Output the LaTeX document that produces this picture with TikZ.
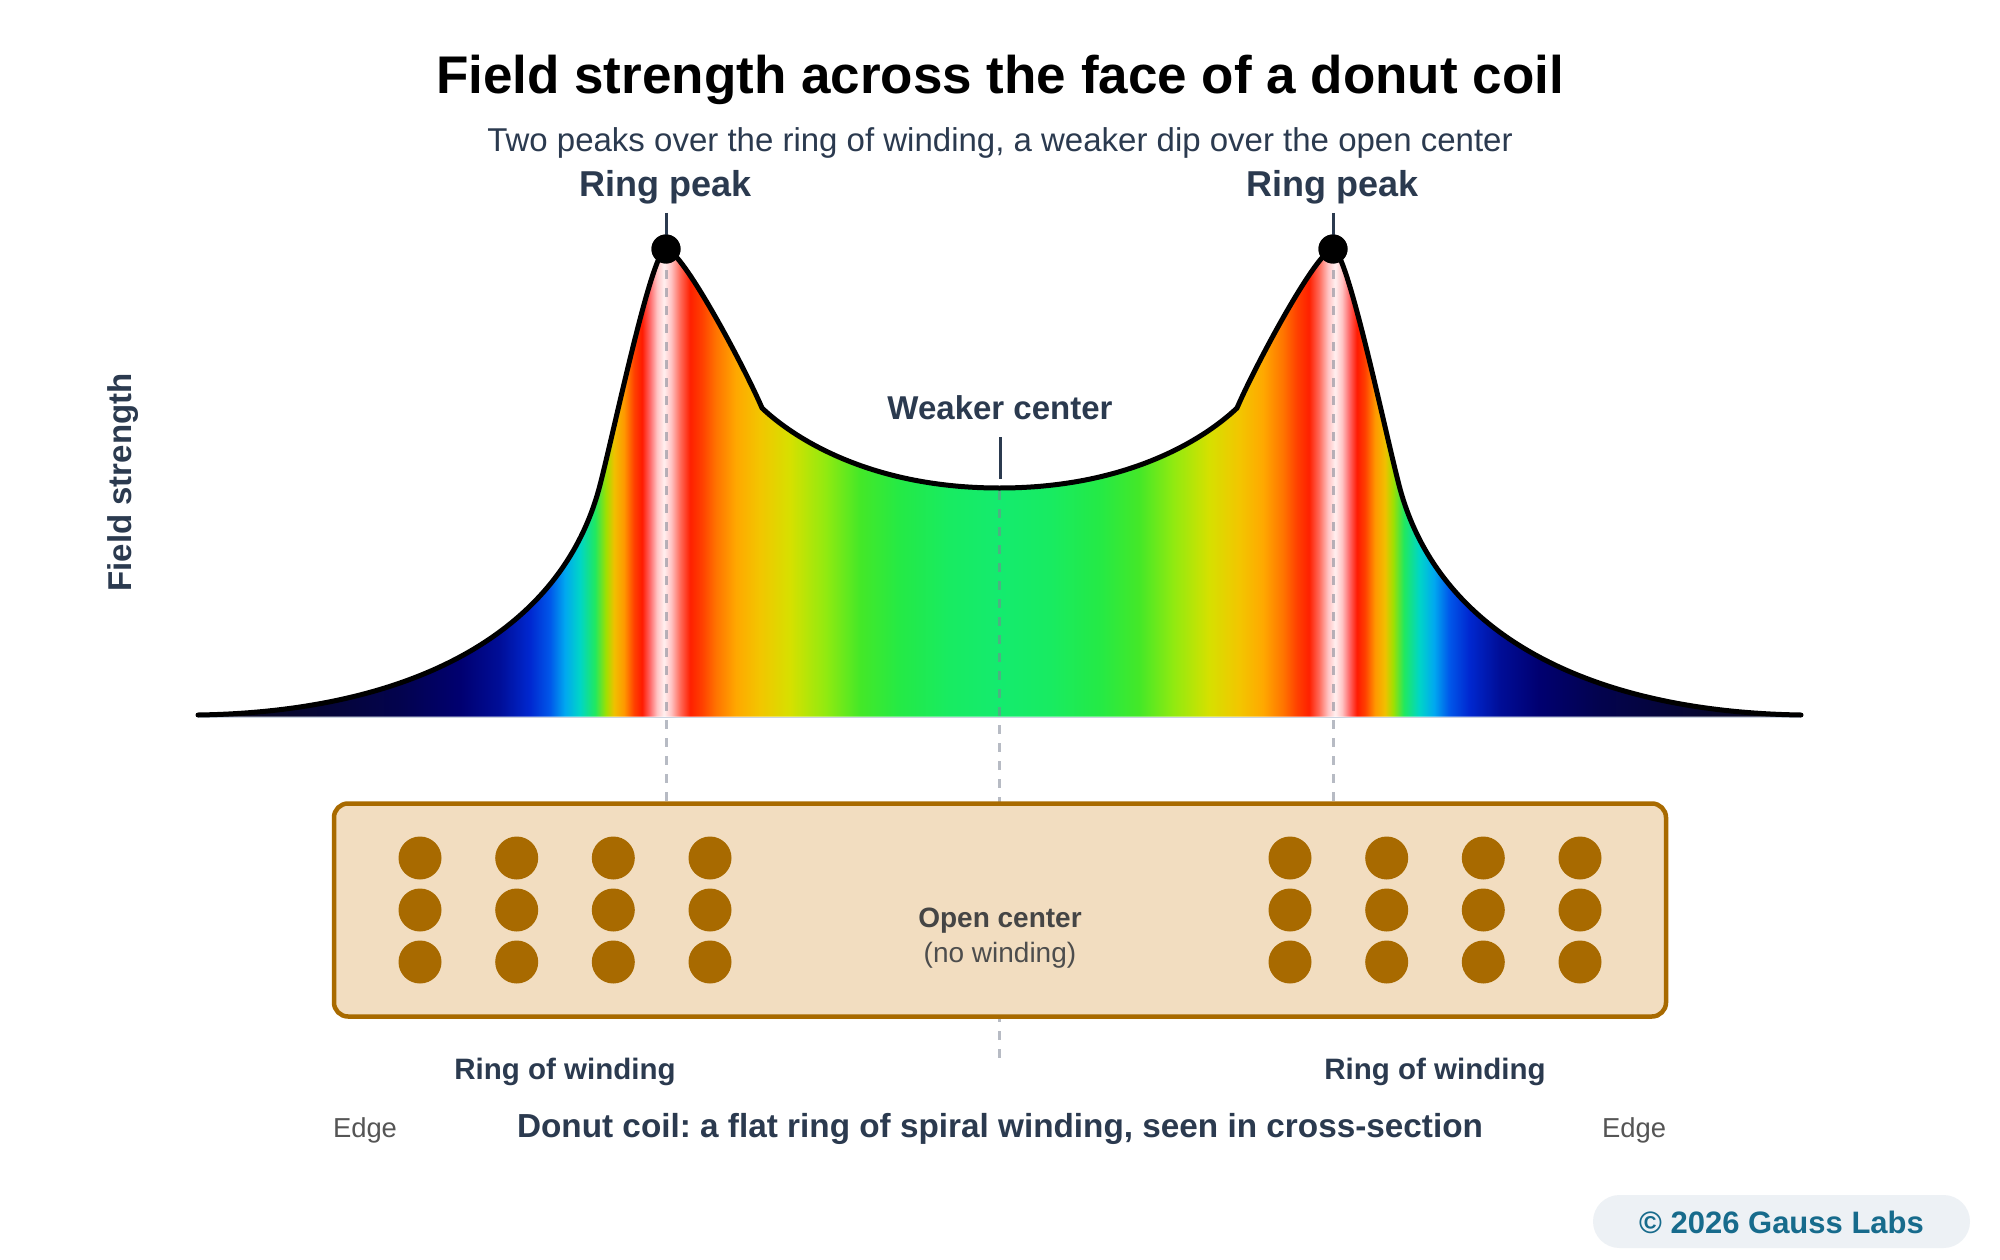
\documentclass[tikz,border=0pt]{standalone}
\usepackage{fontspec}
\setmainfont{Liberation Sans}
\frenchspacing
\definecolor{slate}{HTML}{2B3A4F}
\definecolor{coil}{HTML}{A86A00}
\definecolor{coilbg}{HTML}{F2DDC0}
\definecolor{guidec}{HTML}{7C8494}
\definecolor{pillbg}{HTML}{EDF1F5}
\definecolor{pilltxt}{HTML}{176B8C}
\definecolor{edgegray}{HTML}{555555}
\definecolor{opengray}{HTML}{454545}
\definecolor{openreg}{HTML}{4D4D4D}
\definecolor{basec}{HTML}{C9D3E0}
\definecolor{g0}{HTML}{0A0A1A}
\definecolor{g1}{HTML}{060630}
\definecolor{g2}{HTML}{03034E}
\definecolor{g3}{HTML}{000070}
\definecolor{g4}{HTML}{000E98}
\definecolor{g5}{HTML}{0028D0}
\definecolor{g6}{HTML}{0058EA}
\definecolor{g7}{HTML}{00A8F0}
\definecolor{g8}{HTML}{00D6C6}
\definecolor{g9}{HTML}{20E860}
\definecolor{g10}{HTML}{A0E000}
\definecolor{g11}{HTML}{F0C000}
\definecolor{g12}{HTML}{FF9800}
\definecolor{g13}{HTML}{FF4000}
\definecolor{g14}{HTML}{FF1A00}
\definecolor{g15}{HTML}{FF6A6A}
\definecolor{g16}{HTML}{FFC4C4}
\definecolor{g17}{HTML}{FFF0F0}
\definecolor{g18}{HTML}{FFC4C4}
\definecolor{g19}{HTML}{FF6A5A}
\definecolor{g20}{HTML}{FF2000}
\definecolor{g21}{HTML}{FF4000}
\definecolor{g22}{HTML}{FF7400}
\definecolor{g23}{HTML}{FFA800}
\definecolor{g24}{HTML}{F2C600}
\definecolor{g25}{HTML}{D6E000}
\definecolor{g26}{HTML}{92EA10}
\definecolor{g27}{HTML}{44E828}
\definecolor{g28}{HTML}{24EA46}
\definecolor{g29}{HTML}{18EB62}
\definecolor{g30}{HTML}{14EB6E}
\pgfdeclarehorizontalshading{fieldshade}{480pt}{%
color(0pt)=(g0); color(102pt)=(g1); color(202pt)=(g2); color(262pt)=(g3);
color(302pt)=(g4); color(332pt)=(g5); color(352pt)=(g6); color(367pt)=(g7);
color(382pt)=(g8); color(397pt)=(g9); color(408pt)=(g10); color(416pt)=(g11);
color(426pt)=(g12); color(436pt)=(g13); color(444pt)=(g14); color(452pt)=(g15);
color(459pt)=(g16); color(466pt)=(g17); color(473pt)=(g18); color(482pt)=(g19);
color(492pt)=(g20); color(504pt)=(g21); color(518pt)=(g22); color(538pt)=(g23);
color(562pt)=(g24); color(592pt)=(g25); color(627pt)=(g26); color(662pt)=(g27);
color(702pt)=(g28); color(752pt)=(g29); color(801.5pt)=(g30);
color(851pt)=(g29); color(901pt)=(g28); color(941pt)=(g27); color(976pt)=(g26);
color(1011pt)=(g25); color(1041pt)=(g24); color(1065pt)=(g23); color(1085pt)=(g22);
color(1099pt)=(g21); color(1111pt)=(g20); color(1121pt)=(g19); color(1130pt)=(g18);
color(1137pt)=(g17); color(1144pt)=(g16); color(1151pt)=(g15); color(1159pt)=(g14);
color(1167pt)=(g13); color(1177pt)=(g12); color(1187pt)=(g11); color(1195pt)=(g10);
color(1206pt)=(g9); color(1221pt)=(g8); color(1236pt)=(g7); color(1251pt)=(g6);
color(1271pt)=(g5); color(1301pt)=(g4); color(1341pt)=(g3); color(1401pt)=(g2);
color(1501pt)=(g1); color(1603pt)=(g0)}
\begin{document}
\begin{tikzpicture}[x=1pt,y=-1pt,
  txt/.style={inner sep=0pt, outer sep=0pt, anchor=base},
  titletxt/.style={txt, font=\fontsize{53}{64}\selectfont\bfseries, text=black},
  subtxt/.style={txt, font=\fontsize{33}{40}\selectfont, text=slate},
  peaklbl/.style={txt, font=\fontsize{36}{43}\selectfont\bfseries, text=slate},
  midlbl/.style={txt, font=\fontsize{33}{40}\selectfont\bfseries, text=slate},
  axislbl/.style={txt, font=\fontsize{33}{40}\selectfont\bfseries, text=slate, rotate=90},
  ringlbl/.style={txt, font=\fontsize{29.5}{36}\selectfont\bfseries, text=slate},
  captxt/.style={txt, font=\fontsize{33.3}{40}\selectfont\bfseries, text=slate},
  edgetxt/.style={txt, font=\fontsize{27.4}{33}\selectfont, text=edgegray},
  openbold/.style={txt, font=\fontsize{28}{34}\selectfont\bfseries, text=opengray},
  openregular/.style={txt, font=\fontsize{28}{34}\selectfont, text=openreg},
  copytxt/.style={txt, font=\fontsize{31}{38}\selectfont\bfseries, text=pilltxt},
  pillbox/.style={draw=none, fill=pillbg, rounded corners=26.5pt, minimum width=377pt, minimum height=53pt, inner sep=0pt},
  coilbox/.style={draw=coil, fill=coilbg, line width=4.5pt, rounded corners=14pt, minimum width=1332pt, minimum height=213pt, inner sep=0pt},
  wire/.style={circle, fill=coil, minimum size=43pt, inner sep=0pt},
  peakdot/.style={circle, fill=black, minimum size=29pt, inner sep=0pt},
  tickline/.style={draw=slate, line width=3pt},
  guide/.style={draw=guidec, draw opacity=0.55, line width=3pt, dash pattern=on 9pt off 9pt},
  curveline/.style={draw=black, line width=5pt, line cap=round, line join=round},
]
\useasboundingbox[fill=white] (0,0) rectangle (2000,1260);

% gradient fill under the curve
\begin{scope}
\clip (198,715) .. controls (400,712) and (560,640) .. (600,485)
  .. controls (615,427) and (652,249) .. (666,249)
  .. controls (682,250) and (744,366) .. (762,408)
  .. controls (785,430) and (860,488) .. (999.5,488)
  .. controls (1139,488) and (1214,430) .. (1237,408)
  .. controls (1255,366) and (1317,250) .. (1333,249)
  .. controls (1347,249) and (1384,427) .. (1399,485)
  .. controls (1439,640) and (1599,712) .. (1801,715)
  -- (1801,716.5) -- (198,716.5) -- cycle;
\node[inner sep=0pt, outer sep=0pt, anchor=south west] (shade) at (198,716.5) {\pgfuseshading{fieldshade}};
\end{scope}

% baseline
\coordinate (bl0) at (198,717.5);
\coordinate (bl1) at (1801,717.5);
\draw[basec, line width=1.5pt] (bl0) -- (bl1);

% guide lines
\coordinate (gLtop) at (666,252);
\coordinate (gLbot) at (666,806);
\coordinate (gCtop) at (999.5,491);
\coordinate (gCbot) at (999.5,1058);
\coordinate (gRtop) at (1333,252);
\coordinate (gRbot) at (1333,806);
\draw[guide] (gLtop) -- (gLbot);
\draw[guide] (gCtop) -- (gCbot);
\draw[guide] (gRtop) -- (gRbot);

% curve
\draw[curveline] (198,715) .. controls (400,712) and (560,640) .. (600,485)
  .. controls (615,427) and (652,249) .. (666,249)
  .. controls (682,250) and (744,366) .. (762,408)
  .. controls (785,430) and (860,488) .. (999.5,488)
  .. controls (1139,488) and (1214,430) .. (1237,408)
  .. controls (1255,366) and (1317,250) .. (1333,249)
  .. controls (1347,249) and (1384,427) .. (1399,485)
  .. controls (1439,640) and (1599,712) .. (1801,715);

% peak markers and labels
\node[peaklbl] (pkL) at (666,197) {Ring peak};
\node[peaklbl] (pkR) at (1333,197) {Ring peak};
\coordinate (tL) at (666,213);
\coordinate (tR) at (1333,213);
\node[peakdot] (dotL) at (666,249) {};
\node[peakdot] (dotR) at (1333,249) {};
\draw[tickline] (tL) -- (dotL.center);
\draw[tickline] (tR) -- (dotR.center);
\node[peakdot] (dotL2) at (dotL.center) {};
\node[peakdot] (dotR2) at (dotR.center) {};

\node[midlbl] (weak) at (1000,419) {Weaker center};
\coordinate (wt0) at (1000,437);
\coordinate (wt1) at (1000,479);
\draw[tickline] (wt0) -- (wt1);

% titles
\node[titletxt] (title) at (1000,94) {Field strength across the face of a donut coil};
\node[subtxt] (subtitle) at (1000,152) {Two peaks over the ring of winding, a weaker dip over the open center};
\node[axislbl] (ylab) at (131,482.5) {Field strength};

% coil cross-section
\node[coilbox] (box) at (1000,910) {};
\foreach \x [count=\i] in {420,516.7,613.3,710,1290,1386.7,1483.3,1580} {
  \foreach \y [count=\j] in {858,910,962} {
    \node[wire] (w\i-\j) at (\x,\y) {};
  }
}
\node[openbold] (open) at (1000,927) {Open center};
\node[openregular] (nowind) at (1000,962) {(no winding)};

\node[ringlbl] (ringL) at (565,1079) {Ring of winding};
\node[ringlbl] (ringR) at (1435,1079) {Ring of winding};
\node[captxt] (caption) at (1000,1137) {Donut coil: a flat ring of spiral winding, seen in cross-section};
\node[edgetxt, anchor=base west] (edgeL) at (333,1137) {Edge};
\node[edgetxt, anchor=base east] (edgeR) at (1666,1137) {Edge};

% credit
\node[pillbox] (pill) at (1781.5,1221.5) {};
\node[copytxt] (copy) at (1781.5,1233) {\textcopyright{} 2026 Gauss Labs};
\end{tikzpicture}
\end{document}
